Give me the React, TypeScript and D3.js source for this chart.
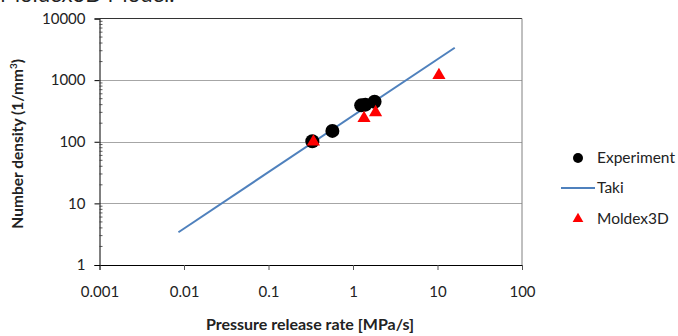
import React, { useEffect, useRef } from "react";
import * as d3 from "d3";

const expRate = [0.33, 0.57, 1.25, 1.4, 1.8];
const expDensity = [102, 150, 390, 400, 445];

const moldexRate = [0.34, 1.35, 1.85, 10.4];
const moldexDensity = [100, 240, 300, 1200];

const takiRate = [0.0086, 16];
const takiDensity = [3.4, 3350];

const xTicks = [0.001, 0.01, 0.1, 1, 10, 100];
const yTicks = [1, 10, 100, 1000, 10000];

const legendNames = ["Experiment", "Taki", "Moldex3D"];

function App() {
  const ref = useRef<SVGSVGElement>(null);

  useEffect(() => {
    const svg = d3.select(ref.current);
    svg.selectAll("*").remove();
    const font = "Lato, 'Open Sans', sans-serif";

    const left = 99.5, right = 522, top = 18.5, bottom = 265;
    const x = d3.scaleLog().domain([0.001, 100]).range([left, right]);
    const y = d3.scaleLog().domain([1, 10000]).range([bottom, top]);

    // cut off title at the very top
    svg
      .append("text")
      .attr("x", 0)
      .attr("y", 2)
      .attr("font-family", font)
      .attr("font-size", 22)
      .attr("fill", "#222")
      .text("Moldex3D Model.");

    // gridlines
    svg
      .append("g")
      .selectAll("line")
      .data(yTicks.slice(1, 4))
      .enter()
      .append("line")
      .attr("x1", left)
      .attr("x2", right)
      .attr("y1", d => Math.round(y(d)) + 0.5)
      .attr("y2", d => Math.round(y(d)) + 0.5)
      .attr("stroke", "#a6a6a6")
      .attr("stroke-width", 1);

    // top and right border
    svg
      .append("line")
      .attr("x1", left)
      .attr("x2", right)
      .attr("y1", top)
      .attr("y2", top)
      .attr("stroke", "#333");
    svg
      .append("line")
      .attr("x1", right)
      .attr("x2", right)
      .attr("y1", top)
      .attr("y2", bottom)
      .attr("stroke", "#808080");

    // x axis
    const xAxis = svg
      .append("g")
      .attr("transform", `translate(0,${bottom})`)
      .call(
        d3
          .axisBottom(x)
          .tickValues(xTicks)
          .tickSize(5)
          .tickFormat(d => String(d))
      );
    xAxis.select(".domain").attr("stroke", "#000");
    xAxis.selectAll(".tick line").attr("stroke", "#555");
    xAxis
      .selectAll("text")
      .attr("font-family", font)
      .attr("font-size", 15)
      .attr("fill", "#222")
      .attr("dy", "1.6em");

    // y axis
    const yAxis = svg
      .append("g")
      .attr("transform", `translate(${left},0)`)
      .call(
        d3
          .axisLeft(y)
          .tickValues(yTicks)
          .tickSize(5)
          .tickFormat(d => String(d))
      );
    yAxis.select(".domain").attr("stroke", "#000");
    yAxis
      .selectAll("text")
      .attr("font-family", font)
      .attr("font-size", 15)
      .attr("fill", "#222")
      .attr("x", -14);

    // minor ticks inside
    const minor = y.ticks().filter(d => !yTicks.includes(d));
    svg
      .append("g")
      .selectAll("line")
      .data(minor)
      .enter()
      .append("line")
      .attr("x1", left)
      .attr("x2", left + 3)
      .attr("y1", d => y(d))
      .attr("y2", d => y(d))
      .attr("stroke", "#333")
      .attr("stroke-width", 0.8);

    // Taki line
    const line = d3
      .line<number>()
      .x((d, i) => x(takiRate[i]))
      .y(d => y(d));
    svg
      .append("path")
      .datum(takiDensity)
      .attr("d", line)
      .attr("fill", "none")
      .attr("stroke", "#4f81bd")
      .attr("stroke-width", 2);

    // experiment
    svg
      .append("g")
      .selectAll("circle")
      .data(expDensity)
      .enter()
      .append("circle")
      .attr("cx", (d, i) => x(expRate[i]))
      .attr("cy", d => y(d))
      .attr("r", 7)
      .attr("fill", "#000");

    // moldex
    const tri = d3.symbol().type(d3.symbolTriangle).size(75);
    svg
      .append("g")
      .selectAll("path")
      .data(moldexDensity)
      .enter()
      .append("path")
      .attr("d", tri)
      .attr("transform", (d, i) => `translate(${x(moldexRate[i])},${y(d)})`)
      .attr("fill", "#ff0000");

    // axis titles
    svg
      .append("text")
      .attr("x", 310)
      .attr("y", 330)
      .attr("text-anchor", "middle")
      .attr("font-family", font)
      .attr("font-size", 16)
      .attr("font-weight", "bold")
      .attr("fill", "#222")
      .text("Pressure release rate [MPa/s]");

    const yt = svg
      .append("text")
      .attr("transform", `translate(23,${(top + bottom) / 2 + 2}) rotate(-90)`)
      .attr("text-anchor", "middle")
      .attr("font-family", font)
      .attr("font-size", 15.5)
      .attr("font-weight", "bold")
      .attr("fill", "#222");
    yt.append("tspan").text("Number density (1/mm");
    yt.append("tspan").attr("baseline-shift", "super").attr("font-size", 10).text("3");
    yt.append("tspan").text(")");

    // legend
    const lg = svg.append("g").attr("font-family", font).attr("font-size", 15.5).attr("fill", "#222");
    const ly = [158, 188, 219];
    lg.append("circle").attr("cx", 578).attr("cy", ly[0]).attr("r", 5).attr("fill", "#000");
    lg.append("line")
      .attr("x1", 561)
      .attr("x2", 595)
      .attr("y1", ly[1])
      .attr("y2", ly[1])
      .attr("stroke", "#4f81bd")
      .attr("stroke-width", 2);
    lg.append("path")
      .attr("d", d3.symbol().type(d3.symbolTriangle).size(50)())
      .attr("transform", `translate(578,${ly[2]})`)
      .attr("fill", "#ff0000");
    lg.selectAll("text.lab")
      .data(legendNames)
      .enter()
      .append("text")
      .attr("class", "lab")
      .attr("x", 597)
      .attr("y", (d, i) => ly[i] + 5)
      .text(d => d);
  }, []);

  return (
    <svg
      ref={ref}
      width={678}
      height={336}
      style={{ position: "absolute", left: 0, top: 0, background: "#fff" }}
    />
  );
}

export default App;
